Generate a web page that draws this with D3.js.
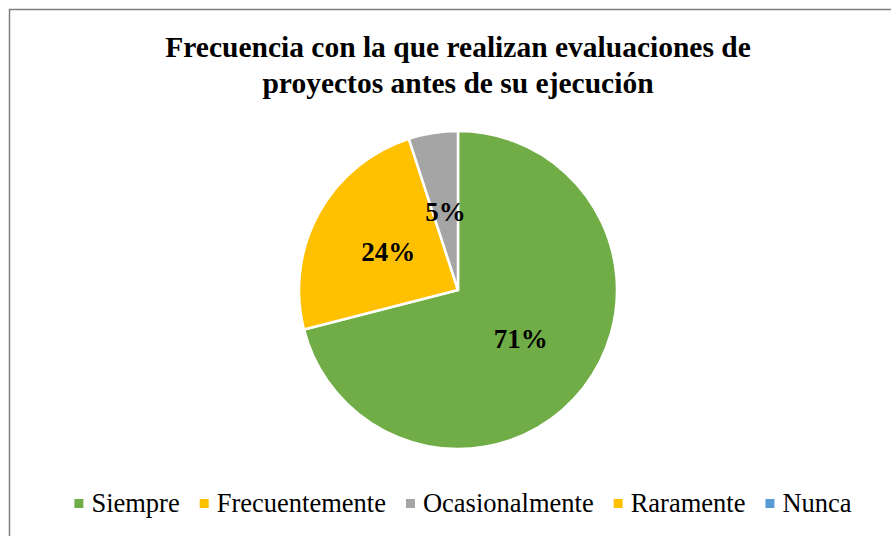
<!DOCTYPE html>
<html>
<head>
<meta charset="utf-8">
<script src="https://cdn.jsdelivr.net/npm/d3@7"></script>
<style>
  body { margin: 0; background: #fff; }
</style>
</head>
<body>
<svg id="chart" width="891" height="536"></svg>
<script>
const categories = ["Siempre", "Frecuentemente", "Ocasionalmente", "Raramente", "Nunca"]
const percents = [71, 24, 5, 0, 0]
const colors = ["#70AD47", "#FFC000", "#A5A5A5", "#FFC000", "#5B9BD5"]
const titleLines = ["Frecuencia con la que realizan evaluaciones de", "proyectos antes de su ejecución"]

const width = 891
const height = 536
const cx = 458, cy = 290, radius = 159
const serif = "'Liberation Serif', 'Times New Roman', Times, serif"

const svg = d3.select("#chart")
    .attr("font-family", serif)

// chart frame (runs off the right and bottom edges)
svg.append("rect")
    .attr("x", 9.5)
    .attr("y", 9.5)
    .attr("width", 900)
    .attr("height", 560)
    .attr("fill", "white")
    .attr("stroke", "#7f7f7f")
    .attr("stroke-width", 1.5)

// title
svg.append("text")
    .attr("text-anchor", "middle")
    .attr("font-weight", "bold")
    .attr("font-size", "29.5px")
    .selectAll("tspan")
    .data(titleLines)
    .join("tspan")
    .attr("x", cx)
    .attr("y", (d, i) => 57 + i * 36)
    .text(d => d)

const data = categories.map((c, i) => ({ name: c, value: percents[i], color: colors[i] }))

const pie = d3.pie().sort(null).value(d => d.value)
const arcs = pie(data)

const arcGen = d3.arc().innerRadius(0).outerRadius(radius)
const labelArc = d3.arc().innerRadius(radius * 0.5).outerRadius(radius * 0.5)

const pieG = svg.append("g")
    .attr("transform", `translate(${cx},${cy})`)

pieG.selectAll("path")
    .data(arcs.filter(d => d.data.value > 0))
    .join("path")
    .attr("d", arcGen)
    .attr("fill", d => d.data.color)
    .attr("stroke", "white")
    .attr("stroke-width", 2.5)
    .attr("stroke-linejoin", "round")

pieG.selectAll("text")
    .data(arcs.filter(d => d.data.value > 0))
    .join("text")
    .attr("transform", d => `translate(${labelArc.centroid(d)})`)
    .attr("text-anchor", "middle")
    .attr("dy", "0.35em")
    .attr("font-weight", "bold")
    .attr("font-size", "27px")
    .text(d => d.data.value + "%")

// legend - measure items then center them
const legend = svg.append("g").attr("class", "legend")
const legendY = 512
const sq = 9, sqGap = 8, itemGap = 20

const items = legend.selectAll("g")
    .data(data)
    .join("g")

items.append("rect")
    .attr("width", sq)
    .attr("height", sq)
    .attr("y", -13)
    .attr("fill", d => d.color)

items.append("text")
    .attr("x", sq + sqGap)
    .attr("font-size", "26.5px")
    .text(d => d.name)

let xPos = 0
const offsets = []
items.each(function () {
    offsets.push(xPos)
    const w = d3.select(this).select("text").node().getComputedTextLength()
    xPos += sq + sqGap + w + itemGap
})
const totalW = xPos - itemGap
const startX = 463 - totalW / 2

items.attr("transform", (d, i) => `translate(${startX + offsets[i]},${legendY})`)
</script>
</body>
</html>
